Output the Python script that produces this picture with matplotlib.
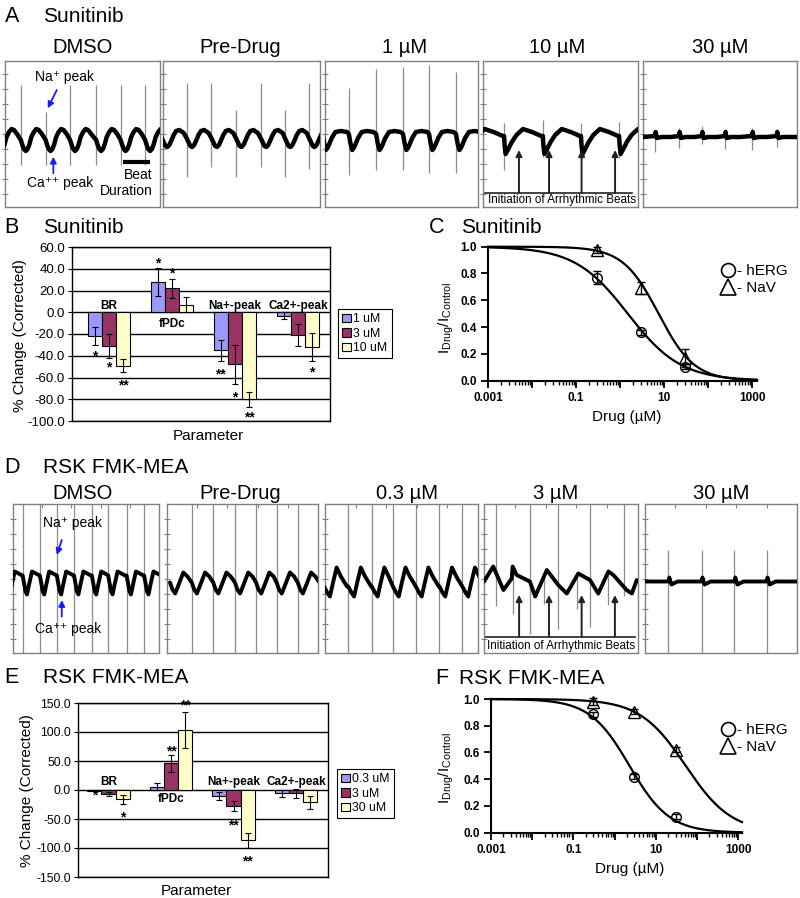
import numpy as np
import matplotlib
matplotlib.use('Agg')
import matplotlib.pyplot as plt
from matplotlib.patches import Patch
from matplotlib.lines import Line2D
from matplotlib.ticker import FixedLocator, FixedFormatter, LogLocator, NullFormatter

plt.rcParams['font.family'] = ['Liberation Sans', 'DejaVu Sans']
plt.rcParams['mathtext.fontset'] = 'custom'
plt.rcParams['mathtext.rm'] = 'Liberation Sans'
plt.rcParams['mathtext.it'] = 'Liberation Sans:italic'
plt.rcParams['mathtext.bf'] = 'Liberation Sans:bold'

# ===================== DATA =====================
a_titles = ['DMSO', 'Pre-Drug', '1 µM', '10 µM', '30 µM']
d_titles = ['DMSO', 'Pre-Drug', '0.3 µM', '3 µM', '30 µM']

# --- A traces (time s in a 5 s window, field potential in µV) ---
a_dmso_beats = [0.51, 1.31, 2.10, 2.94, 3.73, 4.52]
a_dmso_lead = -0.29
a_dmso_top = [49, 22, 49, 49, 49, 49]
a_dmso_bot = [-31, -31, -31, -31, -31, -31]
a_dmso_tt = [0, .05, .10, .16, .22, .28, .34, .42, .50, .58, .68]
a_dmso_tv = [-6, -11, -15, -17, -15, -10, -3, 2, 5, 4, 0]

a_pre_beats = [0.75, 1.54, 2.32, 3.11, 3.88, 4.65]
a_pre_lead = -0.04
a_pre_top = [51, 51, 24, 51, 24, 51]
a_pre_bot = [-43, -33, -43, -33, -43, -35]
a_pre_tt = [0, .06, .12, .18, .24, .30, .38, .46, .56, .70]
a_pre_tv = [-4, -8, -12, -13, -11, -7, -1, 3, 4, 1]

a_1um_beats = [0.78, 1.67, 2.55, 3.40, 4.28]
a_1um_lead = -0.08
a_1um_top = [46, 65, 67, 69, 62]
a_1um_bot = [-41, -36, -36, -39, -39]
a_1um_tt = [0, .05, .11, .16, .22, .30, .42, .60, .80]
a_1um_tv = [0, -9, -16, -14, -10, -4, 2, 3, 2]

a_10um_beats = [0.68, 1.93, 3.16, 4.39]
a_10um_lead = -0.56
a_10um_top = [11, 14, 11, 12]
a_10um_bot = [-36, -23, -23, -24]
a_10um_tt = [0, .02, .05, .12, .25, .40, .61, .90, 1.20]
a_10um_tv = [-2, -12, -20, -16, -8, -1, 5, 2, -2]
a_10um_arrows = [1.16, 2.13, 3.18, 4.26]

a_30um_beats = [0.39, 1.17, 1.91, 2.66, 3.54, 4.34]
a_30um_top = [4, 6, 8, 5, 6, 5]
a_30um_bot = [-18, -14, -10, -15, -16, -13]
a_30um_tt = [0, .02, .06, .20, .50]
a_30um_tv = [-2, 2, -4, -3, -3]

# --- D traces ---
d_dmso_beats = [0.33, 0.92, 1.50, 2.09, 2.70, 3.26, 3.89, 4.49]
d_dmso_lead = -0.26
d_dmso_tt = [0, .05, .10, .15, .22, .32, .45, .58]
d_dmso_tv = [3, -5, -13, -16, -6, 7, 5, 3]

d_pre_beats = [0.82, 1.53, 2.25, 2.95, 3.63, 4.33]
d_pre_lead = 0.10
d_pre_tt = [0, .08, .17, .30, .44, .58, .72]
d_pre_tv = [-4, -11, -15, -5, 6, 2, -4]

d_03um_beats = [0.76, 1.53, 2.22, 2.97, 3.74, 4.49]
d_03um_lead = -0.03
d_03um_tt = [0, .10, .19, .30, .41, .55, .75]
d_03um_tv = [-8, -14, -18, -3, 11, 2, -8]

d_3um_t = [0, .30, .63, .90, .93, 1.06, 1.49, 1.66, 2.04, 2.41, 2.69, 3.06,
           3.44, 3.71, 4.04, 4.20, 4.63, 4.80, 4.96]
d_3um_v = [-3, 12, -11.5, 0, 12, 3.5, -3, -18, 8.5, -6.5, -15, 5,
           -1.5, -15, 7, 3.5, -11.5, -15, -1.5]
d_3um_tall = [0.39, 1.49, 2.41, 3.44, 4.55]
d_3um_tall_bot = [-27, -55, -50, -48, -17]
d_3um_short = [0.93, 1.95, 3.01, 4.03]
d_3um_short_top = [12, 5, 5, 5]
d_3um_short_bot = [-35, -25, -30, -26]
d_3um_arrows = [1.14, 2.11, 3.17, 4.25]

d_30um_beats = [0.77, 1.86, 2.94, 4.00]
d_30um_tt = [0, .03, .10, .30]
d_30um_tv = [-3, 1, -6, -3]

# --- B / E bar charts ---
params = ['BR', 'fPDc', 'Na+-peak', 'Ca2+-peak']
bar_colors = ['#9999FF', '#993366', '#FFFFCC']

b_series = ['1 uM', '3 uM', '10 uM']
b_1uM = [-22, 28, -35, -3]
b_1uM_err = [8.5, 13, 9.5, 3.3]
b_3uM = [-31, 22, -48, -21]
b_3uM_err = [11, 9, 18, 10]
b_10uM = [-49, 7, -80, -32]
b_10uM_err = [6, 6.7, 7, 12.7]
b_label_y = [6, -11, 6, 6]
b_stars = [(0, 0, -37.5, '*'), (0, 1, -48, '*'), (0, 2, -65, '**'),
           (1, 0, 47.7, '*'), (1, 1, 38.4, '*'),
           (2, 0, -54.6, '**'), (2, 1, -76, '*'), (2, 2, -94, '**'),
           (3, 2, -53, '*')]

e_series = ['0.3 uM', '3 uM', '30 uM']
e_03uM = [-1, 6, -10, -6]
e_03uM_err = [1, 6, 6.5, 6]
e_3uM = [-7, 46, -27, -6]
e_3uM_err = [4, 14.5, 8.7, 7.8]
e_30uM = [-16, 104, -87, -21]
e_30uM_err = [7.5, 31, 13.7, 11.5]
e_label_y = [14, -16, 14, 14]
e_stars = [(0, 0, -5, '*'), (0, 2, -43, '*'), (1, 1, 72, '**'), (1, 2, 150, '**'),
           (2, 1, -56, '**'), (2, 2, -119, '**')]

# --- C / F concentration-response ---
conc = [0.3, 3, 30]
c_herg = [0.77, 0.36, 0.105]
c_herg_err = [0.045, 0.02, 0.02]
c_nav = [0.975, 0.69, 0.17]
c_nav_err = [0.02, 0.045, 0.07]
c_herg_fit = (1.5, 0.72)     # IC50 (µM), Hill coefficient
c_nav_fit = (7.5, 1.07)
f_herg = [0.886, 0.42, 0.12]
f_herg_err = [0.02, 0.02, 0.02]
f_nav = [0.98, 0.905, 0.62]
f_nav_err = [0.025, 0.02, 0.02]
f_herg_fit = (2.3, 0.9)
f_nav_fit = (53, 0.78)

# ===================== LAYOUT =====================
W, H = 800, 898
fig = plt.figure(figsize=(8, 8.98), dpi=100)


def rect(x0, y0, x1, y1):
    return [x0 / W, 1 - y1 / H, (x1 - x0) / W, (y1 - y0) / H]


def ftext(x, y, s, **kw):
    fig.text(x / W, 1 - y / H, s, **kw)


GRAY = '#808080'
SPK = '#8c8c8c'


def trace_axes(box, lim, top_ticks=False):
    ax = fig.add_axes(rect(*box))
    ax.set_xlim(0, 5)
    ax.set_ylim(-lim, lim)
    for s in ax.spines.values():
        s.set_color(GRAY)
        s.set_linewidth(1.0)
    ax.set_yticks(np.arange(-60, 61, 15))
    ax.set_yticklabels([])
    ax.tick_params(axis='y', direction='inout', length=4, color=GRAY, width=0.8)
    if top_ticks:
        ax.xaxis.tick_top()
        ax.set_xticks([1, 2, 3, 4])
        ax.set_xticklabels([])
        ax.tick_params(axis='x', direction='in', length=3, color=GRAY, width=0.8)
    else:
        ax.set_xticks([])
    return ax


def tiled(beats, lead, tt, tv, start=None):
    allb = ([lead] if lead is not None else []) + list(beats)
    xs, ys = [], []
    if lead is None:
        xs.append(0.0)
        ys.append(start if start is not None else tv[-1])
    for i, b in enumerate(allb):
        nxt = allb[i + 1] if i + 1 < len(allb) else np.inf
        for dt, v in zip(tt, tv):
            if b + dt < nxt:
                xs.append(b + dt)
                ys.append(v)
    if xs[-1] < 5.2:
        xs.append(5.2)
        ys.append(ys[-1])
    return xs, ys


def draw_trace(ax, xs, ys, lw):
    ax.plot(xs, ys, color='k', lw=lw, solid_joinstyle='round', solid_capstyle='round', zorder=3)


# ---------- Panel A ----------
a_boxes = [(5, 61, 160, 207), (163, 61, 320, 207), (325, 61, 478, 207),
           (483, 61, 638, 207), (643, 61, 797, 207)]
a_title_x = [83, 240, 405, 557, 720]
A_LIM = 73
a_ax = [trace_axes(b, A_LIM) for b in a_boxes]
for x, t in zip(a_title_x, a_titles):
    ftext(x, 53, t, ha='center', va='baseline', fontsize=14.5)

specs_a = [
    (a_dmso_beats, a_dmso_lead, a_dmso_tt, a_dmso_tv, a_dmso_top, a_dmso_bot, None),
    (a_pre_beats, a_pre_lead, a_pre_tt, a_pre_tv, a_pre_top, a_pre_bot, None),
    (a_1um_beats, a_1um_lead, a_1um_tt, a_1um_tv, a_1um_top, a_1um_bot, None),
    (a_10um_beats, a_10um_lead, a_10um_tt, a_10um_tv, a_10um_top, a_10um_bot, None),
    (a_30um_beats, None, a_30um_tt, a_30um_tv, a_30um_top, a_30um_bot, -3),
]
for ax, (bt, ld, tt, tv, top, bot, st) in zip(a_ax, specs_a):
    ax.vlines(bt, bot, top, color=SPK, lw=0.9, zorder=2)
    xs, ys = tiled(bt, ld, tt, tv, st)
    draw_trace(ax, xs, ys, 3.2)

# annotations A DMSO
ax = a_ax[0]
ax.text(0.97, 53, 'Na\u207a peak', fontsize=10, ha='left', va='baseline')
ax.annotate('', xy=(1.38, 25.7), xytext=(1.67, 44),
            arrowprops=dict(arrowstyle='-|>', color='#1a1aff', lw=1.3, mutation_scale=9, shrinkA=0, shrinkB=0))
ax.text(0.70, -52.7, 'Ca\u207a\u207a peak', fontsize=10, ha='left', va='baseline')
ax.annotate('', xy=(1.56, -22.7), xytext=(1.56, -39.3),
            arrowprops=dict(arrowstyle='-|>', color='#1a1aff', lw=1.3, mutation_scale=9, shrinkA=0, shrinkB=0))
ax.plot([3.82, 4.68], [-28, -28], color='k', lw=3, solid_capstyle='butt')
ax.text(4.77, -45, 'Beat', fontsize=10, ha='right', va='baseline')
ax.text(4.77, -61, 'Duration', fontsize=10, ha='right', va='baseline')

# annotations A 10 µM
ax = a_ax[3]
for t in a_10um_arrows:
    ax.annotate('', xy=(t, -16), xytext=(t, -58.7),
                arrowprops=dict(arrowstyle='-|>', color='#222222', lw=1.4, mutation_scale=9, shrinkA=0, shrinkB=0))
ax.plot([0.06, 4.8], [-58.7, -58.7], color='#222222', lw=1.2)
ax.text(2.54, -69.5, 'Initiation of Arrhythmic Beats', fontsize=8.4, ha='center', va='baseline')

# ---------- Panel D ----------
d_boxes = [(13, 504, 159, 653), (167, 504, 318, 653), (325, 504, 478, 653),
           (484, 504, 638, 653), (645, 504, 797, 653)]
d_title_x = [83, 240, 407, 556, 721]
D_LIM = 74.5
d_ax = [trace_axes(b, D_LIM, top_ticks=True) for b in d_boxes]
for x, t in zip(d_title_x, d_titles):
    ftext(x, 499, t, ha='center', va='baseline', fontsize=14.5)

specs_d = [
    (d_dmso_beats, d_dmso_lead, d_dmso_tt, d_dmso_tv),
    (d_pre_beats, d_pre_lead, d_pre_tt, d_pre_tv),
    (d_03um_beats, d_03um_lead, d_03um_tt, d_03um_tv),
]
for ax, (bt, ld, tt, tv) in zip(d_ax[:3], specs_d):
    ax.vlines(bt, -80, 80, color=SPK, lw=0.9, zorder=2)
    xs, ys = tiled(bt, ld, tt, tv)
    draw_trace(ax, xs, ys, 2.8)

ax = d_ax[3]
ax.vlines(d_3um_tall, d_3um_tall_bot, 80, color=SPK, lw=0.9, zorder=2)
ax.vlines(d_3um_short, d_3um_short_bot, d_3um_short_top, color=SPK, lw=0.9, zorder=2)
draw_trace(ax, d_3um_t, d_3um_v, 2.8)
for t in d_3um_arrows:
    ax.annotate('', xy=(t, -16.5), xytext=(t, -58),
                arrowprops=dict(arrowstyle='-|>', color='#222222', lw=1.4, mutation_scale=9, shrinkA=0, shrinkB=0))
ax.plot([0.03, 4.9], [-58, -58], color='#222222', lw=1.2)
ax.text(2.49, -70.5, 'Initiation of Arrhythmic Beats', fontsize=8.4, ha='center', va='baseline')

ax = d_ax[4]
ax.vlines(d_30um_beats, -80, 28.5, color=SPK, lw=0.9, zorder=2)
xs, ys = tiled(d_30um_beats, None, d_30um_tt, d_30um_tv, -3)
draw_trace(ax, xs, ys, 2.8)

ax = d_ax[0]
ax.text(1.02, 51.8, 'Na\u207a peak', fontsize=10, ha='left', va='baseline')
ax.annotate('', xy=(1.50, 23.5), xytext=(1.67, 38.5),
            arrowprops=dict(arrowstyle='-|>', color='#1a1aff', lw=1.3, mutation_scale=9, shrinkA=0, shrinkB=0))
ax.text(0.75, -54.2, 'Ca\u207a\u207a peak', fontsize=10, ha='left', va='baseline')
ax.annotate('', xy=(1.67, -21.5), xytext=(1.67, -38),
            arrowprops=dict(arrowstyle='-|>', color='#1a1aff', lw=1.3, mutation_scale=9, shrinkA=0, shrinkB=0))


# ---------- Bar panels ----------
def bar_panel(box, xlim, ylim, step, vals, errs, names, label_y, stars, leg_xy, tick_fs):
    ax = fig.add_axes(rect(*box))
    x = np.arange(len(params))
    w = 0.225
    for k in range(3):
        ax.bar(x + (k - 1) * w, vals[k], w, yerr=errs[k], color=bar_colors[k],
               edgecolor='k', linewidth=0.8, zorder=3,
               error_kw=dict(ecolor='k', elinewidth=0.8, capsize=2.5, capthick=0.8, zorder=4))
    ax.set_xlim(*xlim)
    ax.set_ylim(*ylim)
    ticks = np.arange(ylim[0], ylim[1] + 0.1, step)
    ax.set_yticks(ticks)
    ax.set_yticklabels([f'{v:.1f}' for v in ticks], fontsize=tick_fs)
    ax.set_xticks([])
    ax.grid(axis='y', color='k', lw=1)
    ax.set_axisbelow(True)
    for s in ax.spines.values():
        s.set_linewidth(1)
        s.set_color('k')
    ax.tick_params(axis='y', length=3, width=0.8, pad=2)
    for i, nm in enumerate(params):
        ax.text(x[i], label_y[i], nm, ha='center', va='center', fontsize=8.5,
                fontweight='bold', zorder=5)
    for (i, k, yv, s) in stars:
        ax.annotate(s, (x[i] + (k - 1) * w, yv), xytext=(0, -5), textcoords='offset points',
                    ha='center', va='baseline', fontsize=10, fontweight='bold')
    handles = [Patch(facecolor=c, edgecolor='k', linewidth=0.8) for c in bar_colors]
    leg = ax.legend(handles, names, loc='upper left',
                    bbox_to_anchor=(leg_xy[0] / W, 1 - leg_xy[1] / H),
                    bbox_transform=fig.transFigure, fontsize=8.8, frameon=True,
                    fancybox=False, edgecolor='k', framealpha=1, borderpad=0.35,
                    handlelength=0.7, handleheight=0.7, handletextpad=0.2,
                    labelspacing=0.2, borderaxespad=0)
    leg.get_frame().set_linewidth(0.8)
    return ax


bar_panel((72, 247, 330, 421), (-0.587, 3.508), (-100, 60), 20,
          [b_1uM, b_3uM, b_10uM], [b_1uM_err, b_3uM_err, b_10uM_err],
          b_series, b_label_y, b_stars, (338, 309), 9.5)
bar_panel((78, 703, 328, 877), (-0.488, 3.512), (-150, 150), 50,
          [e_03uM, e_3uM, e_30uM], [e_03uM_err, e_3uM_err, e_30uM_err],
          e_series, e_label_y, e_stars, (337, 769), 8.7)
ftext(20, 336, '% Change (Corrected)', rotation=90, ha='center', va='center', fontsize=11)
ftext(27, 791, '% Change (Corrected)', rotation=90, ha='center', va='center', fontsize=11)
ftext(208, 440, 'Parameter', ha='center', va='baseline', fontsize=11)
ftext(196, 895, 'Parameter', ha='center', va='baseline', fontsize=11)


# ---------- Concentration-response panels ----------
def hill(xv, ic50, n):
    return 1.0 / (1.0 + (xv / ic50) ** n)


def dr_panel(box, xmax, herg, herg_e, nav, nav_e, herg_fit, nav_fit, leg_xy):
    ax = fig.add_axes(rect(*box))
    ax.set_xscale('log')
    ax.set_xlim(1e-3, xmax)
    ax.set_ylim(0, 1.0)
    xx = np.logspace(-3, np.log10(xmax), 400)
    ax.plot(xx, hill(xx, *herg_fit), color='k', lw=1.6, clip_on=False, zorder=3)
    ax.plot(xx, hill(xx, *nav_fit), color='k', lw=1.6, clip_on=False, zorder=3)
    ax.errorbar(conc, herg, yerr=herg_e, fmt='o', ms=7, mfc='none', mec='k', mew=1.0,
                ecolor='k', elinewidth=1, capsize=3, clip_on=False, zorder=4)
    ax.errorbar(conc, nav, yerr=nav_e, fmt='^', ms=8, mfc='none', mec='k', mew=1.0,
                ecolor='k', elinewidth=1, capsize=3, clip_on=False, zorder=4)
    for s in ['top', 'right']:
        ax.spines[s].set_visible(False)
    for s in ['left', 'bottom']:
        ax.spines[s].set_linewidth(1.5)
    majors = [1e-3, 1e-2, 1e-1, 1, 10, 100, 1000]
    ax.xaxis.set_major_locator(FixedLocator(majors))
    ax.xaxis.set_major_formatter(FixedFormatter(['0.001', '', '0.1', '', '10', '', '1000']))
    ax.xaxis.set_minor_locator(LogLocator(base=10, subs=np.arange(2, 10)))
    ax.xaxis.set_minor_formatter(NullFormatter())
    ax.set_yticks(np.arange(0, 1.01, 0.2))
    ax.set_yticklabels([f'{v:.1f}' for v in np.arange(0, 1.01, 0.2)])
    ax.tick_params(which='major', direction='out', length=5, width=1.3, labelsize=8.5, pad=3)
    ax.tick_params(which='minor', direction='out', length=3, width=1.0)
    for lab in ax.get_xticklabels() + ax.get_yticklabels():
        lab.set_fontweight('bold')
    handles = [Line2D([], [], ls='none', marker='o', ms=10, mfc='none', mec='k', mew=1.2),
               Line2D([], [], ls='none', marker='^', ms=11, mfc='none', mec='k', mew=1.2)]
    ax.legend(handles, ['- hERG', '- NaV'], loc='upper left',
              bbox_to_anchor=(leg_xy[0] / W, 1 - leg_xy[1] / H), bbox_transform=fig.transFigure,
              frameon=False, fontsize=11, handlelength=1.0, handletextpad=0.1,
              borderpad=0, borderaxespad=0, labelspacing=0.2)
    return ax


dr_panel((488, 246.7, 757, 380.7), 1290, c_herg, c_herg_err, c_nav, c_nav_err,
         c_herg_fit, c_nav_fit, (720, 264))
dr_panel((491, 699, 742, 832.7), 1230, f_herg, f_herg_err, f_nav, f_nav_err,
         f_herg_fit, f_nav_fit, (720, 723))
ylab = r'$\mathrm{I_{Drug}/I_{Control}}$'
ftext(446.7, 317.5, ylab, rotation=90, ha='center', va='center', fontsize=11)
ftext(446.7, 768, ylab, rotation=90, ha='center', va='center', fontsize=11)
ftext(626.7, 421, 'Drug (µM)', ha='center', va='baseline', fontsize=11)
ftext(630, 873, 'Drug (µM)', ha='center', va='baseline', fontsize=11)

# ---------- Panel letters & titles ----------
for (lx, ly, letter, tx, title) in [(5, 22, 'A', 43, 'Sunitinib'),
                                    (4, 233, 'B', 43, 'Sunitinib'),
                                    (429, 233, 'C', 461, 'Sunitinib'),
                                    (4, 473, 'D', 43, 'RSK FMK-MEA'),
                                    (4, 683, 'E', 43, 'RSK FMK-MEA'),
                                    (435, 684, 'F', 459, 'RSK FMK-MEA')]:
    ftext(lx, ly, letter, ha='left', va='baseline', fontsize=15.5)
    ftext(tx, ly, title, ha='left', va='baseline', fontsize=15)

fig.savefig('out.png', dpi=100)
